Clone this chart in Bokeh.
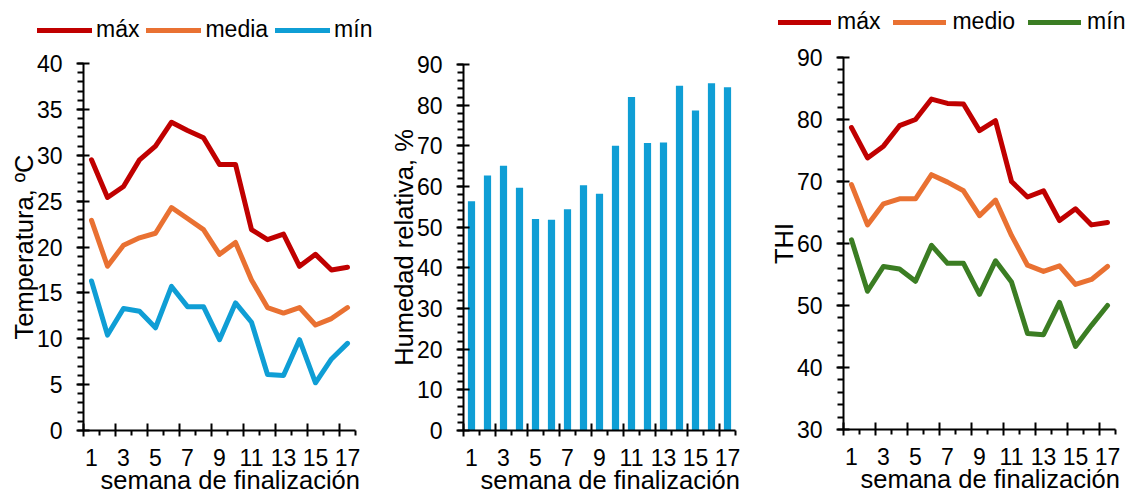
from bokeh.plotting import figure
from bokeh.layouts import row, column
from bokeh.models import Range1d, LinearAxis, FixedTicker, Legend, LegendItem, ColumnDataSource, Title, Spacer
from bokeh.embed import file_html
from bokeh.resources import INLINE

# ---------------- data ----------------
weeks = [1, 2, 3, 4, 5, 6, 7, 8, 9, 10, 11, 12, 13, 14, 15, 16, 17]
week_tick_labels = [1, 3, 5, 7, 9, 11, 13, 15, 17]

temp_max = [29.5, 25.4, 26.6, 29.5, 31.0, 33.6, 32.7, 31.9, 29.0, 29.0, 21.9, 20.8, 21.4, 17.9, 19.2, 17.5, 17.8]
temp_media = [22.9, 17.9, 20.2, 21.0, 21.5, 24.3, 23.1, 21.9, 19.2, 20.5, 16.4, 13.4, 12.8, 13.4, 11.5, 12.2, 13.4]
temp_min = [16.3, 10.4, 13.3, 13.0, 11.2, 15.7, 13.5, 13.5, 9.9, 13.9, 11.8, 6.1, 6.0, 9.9, 5.2, 7.8, 9.5]

humedad = [56.4, 62.7, 65.1, 59.7, 52.0, 51.8, 54.4, 60.3, 58.2, 70.0, 82.0, 70.7, 70.8, 84.8, 78.7, 85.4, 84.4]

thi_max = [78.7, 73.8, 75.7, 79.0, 80.0, 83.3, 82.6, 82.5, 78.2, 79.8, 70.0, 67.5, 68.5, 63.7, 65.6, 63.0, 63.4]
thi_medio = [69.5, 63.0, 66.4, 67.2, 67.2, 71.1, 69.9, 68.5, 64.5, 67.0, 61.3, 56.5, 55.5, 56.4, 53.4, 54.2, 56.3]
thi_min = [60.6, 52.3, 56.3, 55.9, 53.9, 59.7, 56.8, 56.8, 51.8, 57.2, 53.8, 45.5, 45.3, 50.5, 43.4, 46.8, 50.0]

RED = "#C00000"
ORANGE = "#E97132"
BLUE = "#0F9ED5"
GREEN = "#3B7D23"
FONT = "Liberation Sans"
TICK_PX = "23px"
TITLE_PX = "25.5px"
LEG_PX = "23px"
LEG_H = 46
W = 376


def make_fig(width, height, ymin, ymax, ylabel, ymajor, yminor, bl, br, bt, bb):
    p = figure(width=width, height=height, x_range=Range1d(0.5, 17.5), y_range=Range1d(ymin, ymax),
               output_backend="svg", toolbar_location=None, x_axis_location=None,
               min_border_left=bl, min_border_right=br, min_border_top=bt, min_border_bottom=bb)
    p.outline_line_color = None
    p.xgrid.grid_line_color = None
    p.ygrid.grid_line_color = None
    p.background_fill_color = "white"
    p.border_fill_color = "white"
    ya = p.yaxis[0]
    ya.ticker = FixedTicker(ticks=ymajor, minor_ticks=yminor)
    ya.axis_line_width = 2
    ya.major_tick_line_width = 2
    ya.minor_tick_line_width = 2
    ya.major_tick_in = 6
    ya.major_tick_out = 7
    ya.minor_tick_in = 0
    ya.minor_tick_out = 6
    ya.major_label_standoff = 14
    ya.major_label_text_font = FONT
    ya.major_label_text_font_size = TICK_PX
    ya.major_label_text_color = "black"
    ya.axis_label = ylabel
    ya.axis_label_text_font = FONT
    ya.axis_label_text_font_size = TITLE_PX
    ya.axis_label_text_font_style = "normal"
    ya.axis_label_text_color = "black"
    ya.axis_label_standoff = -4

    # tick-mark axis (boundaries between weeks)
    xa = LinearAxis(ticker=FixedTicker(ticks=[0.5, 2.5, 4.5, 6.5, 8.5, 10.5, 12.5, 14.5, 16.5],
                                       minor_ticks=[1.5, 3.5, 5.5, 7.5, 9.5, 11.5, 13.5, 15.5, 17.5]))
    xa.axis_line_width = 2
    xa.major_tick_line_width = 2
    xa.minor_tick_line_width = 2
    xa.major_tick_in = 7
    xa.major_tick_out = 6
    xa.minor_tick_in = 0
    xa.minor_tick_out = 5
    xa.major_label_text_font_size = "1px"
    xa.major_label_text_alpha = 0
    xa.major_label_text_color = None
    xa.major_label_standoff = 0
    p.add_layout(xa, "below")

    # label axis (week numbers centred on weeks)
    xl = LinearAxis(ticker=FixedTicker(ticks=week_tick_labels, minor_ticks=[]))
    xl.axis_line_color = None
    xl.major_tick_line_color = None
    xl.minor_tick_line_color = None
    xl.major_tick_in = 0
    xl.major_tick_out = 0
    xl.minor_tick_in = 0
    xl.minor_tick_out = 0
    xl.major_label_standoff = 12
    xl.major_label_text_font = FONT
    xl.major_label_text_font_size = TICK_PX
    xl.major_label_text_color = "black"
    p.add_layout(xl, "below")

    t = Title(text="semana de finalización", align="left", offset=17, standoff=-9,
              text_font=FONT, text_font_size=TITLE_PX, text_font_style="normal", text_color="black")
    p.add_layout(t, "below")
    return p


def add_lines(p, series):
    for name, vals, color in series:
        src = ColumnDataSource(dict(x=weeks, y=vals))
        p.line("x", "y", source=src, line_color=color, line_width=5,
               line_join="round", line_cap="round")


def legend_fig(width, series, glyph_width, standoff, spacing, loc):
    # legend strip: the same series are drawn out of view, only their legend shows
    lf = figure(width=width, height=LEG_H, x_range=Range1d(100, 101), y_range=Range1d(100, 101),
                output_backend="svg", toolbar_location=None, x_axis_location=None, y_axis_location=None,
                min_border=0, min_border_left=0, min_border_right=0, min_border_top=0, min_border_bottom=0)
    lf.outline_line_color = None
    lf.xgrid.grid_line_color = None
    lf.ygrid.grid_line_color = None
    items = []
    for name, vals, color in series:
        src = ColumnDataSource(dict(x=weeks, y=vals))
        r = lf.line("x", "y", source=src, line_color=color, line_width=5,
                    line_join="round", line_cap="round")
        items.append(LegendItem(label=name, renderers=[r]))
    leg = Legend(items=items, orientation="horizontal", location=loc,
                 glyph_width=glyph_width, glyph_height=24, label_standoff=standoff, spacing=spacing,
                 padding=0, margin=0, border_line_color=None, background_fill_alpha=0,
                 label_text_font=FONT, label_text_font_size=LEG_PX, label_text_color="black")
    lf.add_layout(leg, "center")
    return lf


temp_series = [("máx", temp_max, RED), ("media", temp_media, ORANGE), ("mín", temp_min, BLUE)]
thi_series = [("máx", thi_max, RED), ("medio", thi_medio, ORANGE), ("mín", thi_min, GREEN)]

PH = 494 - LEG_H

# left: temperature
p1 = make_fig(W, PH, 0, 40, "Temperatura, ºC", [0, 5, 10, 15, 20, 25, 30, 35, 40],
              list(range(0, 41)), 83, 21, 63 - LEG_H, 64)
add_lines(p1, temp_series)
l1 = legend_fig(W, temp_series, 55, 4, 7, (37, 3))

# middle: humidity bars
p2 = make_fig(W, PH, 0, 90, "Humedad relativa, %", [0, 10, 20, 30, 40, 50, 60, 70, 80, 90],
              list(range(0, 91, 2)), 87, 17, 64 - LEG_H, 64)
src_h = ColumnDataSource(dict(x=weeks, top=humedad))
p2.vbar(x="x", top="top", bottom=0, width=0.45, source=src_h, fill_color=BLUE, line_color=None)

# right: THI
p3 = make_fig(W, PH, 30, 90, "THI", [30, 40, 50, 60, 70, 80, 90], list(range(30, 91, 2)),
              91, 13, 57 - LEG_H, 65)
add_lines(p3, thi_series)
l3 = legend_fig(W, thi_series, 53, 6, 13, (26, 11))

top_row = row(l1, Spacer(width=W, height=LEG_H), l3, spacing=0)
bottom_row = row(column(p1), column(p2), column(p3), spacing=0)
layout = column(top_row, bottom_row, spacing=0)
open("out.html", "w").write(file_html(layout, INLINE))
